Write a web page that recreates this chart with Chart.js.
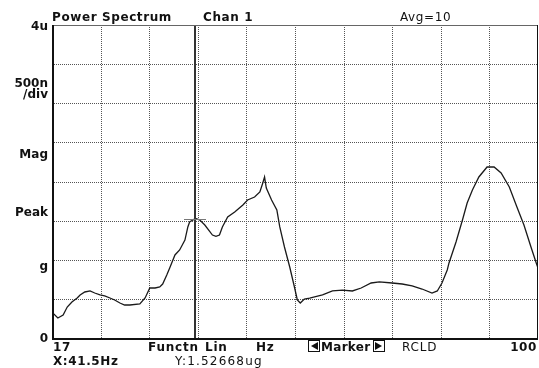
<!DOCTYPE html>
<html>
<head>
<meta charset="utf-8">
<script src="https://cdn.jsdelivr.net/npm/chart.js@4/dist/chart.umd.min.js"></script>
<style>
  html, body { margin: 0; padding: 0; background: #ffffff; }
  #wrap { width: 539px; height: 368px; }
</style>
</head>
<body>
<div id="wrap"><canvas id="c" width="539" height="368"></canvas></div>
<script>
// Frequency axis (Hz) and averaged power spectrum magnitude (u units)
const freqHz = [
  17.0, 18.0, 18.9, 19.6, 20.4, 21.3, 21.8, 22.6, 23.5, 24.3, 25.2, 26.0, 26.9,
  27.7, 28.6, 29.4, 30.3, 32.0, 32.9, 33.7, 34.6, 35.4, 35.9, 36.6, 37.1, 38.0,
  38.8, 39.7, 40.2, 40.5, 41.5, 42.2, 43.1, 44.4, 45.0, 45.6, 46.1, 47.0, 48.2,
  49.6, 50.4, 51.6, 52.5, 53.0, 53.3, 53.6, 54.5, 55.4, 55.9, 56.7, 57.6, 58.4,
  58.9, 59.4, 60.1, 61.0, 63.2, 64.9, 66.6, 68.3, 69.8, 71.5, 72.9, 75.1, 76.8,
  78.5, 80.2, 81.9, 82.8, 83.6, 84.5, 84.8, 86.0, 87.1, 87.9, 88.8, 89.9, 91.3,
  92.5, 93.7, 95.1, 96.4, 97.6, 98.8, 99.7, 100.0
];
const magnitude = [
  0.33, 0.256, 0.294, 0.396, 0.46, 0.511, 0.55, 0.588, 0.601, 0.575, 0.55, 0.537, 0.511,
  0.486, 0.447, 0.422, 0.422, 0.435, 0.511, 0.639, 0.639, 0.652, 0.69, 0.805, 0.895, 1.061,
  1.125, 1.252, 1.419, 1.483, 1.52668, 1.51, 1.444, 1.316, 1.30, 1.316, 1.419, 1.546, 1.61,
  1.70, 1.764, 1.802, 1.866, 1.981, 2.058, 1.917, 1.764, 1.636, 1.419, 1.163, 0.907, 0.652,
  0.486, 0.447, 0.498, 0.511, 0.55, 0.601, 0.613, 0.601, 0.639, 0.703, 0.716, 0.703, 0.69,
  0.665, 0.626, 0.575, 0.601, 0.703, 0.869, 0.959, 1.227, 1.508, 1.725, 1.891, 2.058, 2.185,
  2.185, 2.109, 1.93, 1.674, 1.444, 1.163, 0.959, 0.895
];

// Axis span and division counts
const xRange = [17, 100];
const yRange = [0, 4];
const xDivisions = 10;
const yDivisions = 8;

// Marker readout
const markerX = 41.5;
const markerY = 1.52668;

// Texts
const headerTexts = ['Power Spectrum', 'Chan 1', 'Avg=10'];
const sideLabels = ['4u', '500n', '/div', 'Mag', 'Peak', 'g', '0'];
const footerTexts = ['17', 'Functn', 'Lin', 'Hz', 'Marker', 'RCLD', '100'];
const readoutTexts = ['X:' + markerX + 'Hz', 'Y:' + markerY + 'ug'];

const points = freqHz.map((f, i) => ({ x: f, y: magnitude[i] }));

const BOLD = 'bold 12px "DejaVu Sans", Verdana, sans-serif';
const NORMAL = '12px "DejaVu Sans", Verdana, sans-serif';

function drawText(ctx, text, x, y, font, align, spacing) {
  ctx.save();
  ctx.font = font;
  ctx.fillStyle = '#111';
  ctx.textBaseline = 'alphabetic';
  ctx.textAlign = align || 'left';
  ctx.letterSpacing = (spacing == null ? 0.5 : spacing) + 'px';
  ctx.fillText(text, x, y);
  ctx.restore();
}

const scopePlugin = {
  id: 'scope',
  beforeDatasetsDraw(chart) {
    const { ctx, chartArea: a, scales: { x, y } } = chart;
    ctx.save();
    ctx.strokeStyle = '#555';
    ctx.lineWidth = 1;
    ctx.setLineDash([1, 1]);
    const xs = (xRange[1] - xRange[0]) / xDivisions;
    for (let i = 1; i < xDivisions; i++) {
      const px = Math.round(x.getPixelForValue(xRange[0] + i * xs)) + 0.5;
      ctx.beginPath(); ctx.moveTo(px, a.top); ctx.lineTo(px, a.bottom); ctx.stroke();
    }
    const ys = (yRange[1] - yRange[0]) / yDivisions;
    for (let i = 1; i < yDivisions; i++) {
      const py = Math.round(y.getPixelForValue(yRange[0] + i * ys)) + 0.5;
      ctx.beginPath(); ctx.moveTo(a.left, py); ctx.lineTo(a.right, py); ctx.stroke();
    }
    ctx.restore();
  },
  afterDatasetsDraw(chart) {
    const { ctx, chartArea: a, scales: { x, y } } = chart;
    ctx.save();
    // marker cursor
    const mx = Math.round(x.getPixelForValue(markerX));
    const my = Math.round(y.getPixelForValue(markerY)) + 0.5;
    ctx.strokeStyle = '#333';
    ctx.lineWidth = 2;
    ctx.beginPath(); ctx.moveTo(mx, a.top); ctx.lineTo(mx, a.bottom); ctx.stroke();
    ctx.strokeStyle = '#777';
    ctx.lineWidth = 1;
    ctx.beginPath(); ctx.moveTo(mx - 11, my); ctx.lineTo(mx + 11, my); ctx.stroke();

    // frame
    ctx.strokeStyle = '#666';
    ctx.lineWidth = 1;
    ctx.beginPath(); ctx.moveTo(a.left, a.top + 0.5); ctx.lineTo(a.right, a.top + 0.5); ctx.stroke();
    ctx.strokeStyle = '#111';
    ctx.beginPath(); ctx.moveTo(a.right - 0.5, a.top); ctx.lineTo(a.right - 0.5, a.bottom); ctx.stroke();
    ctx.lineWidth = 2;
    ctx.beginPath(); ctx.moveTo(a.left + 1, a.top); ctx.lineTo(a.left + 1, a.bottom + 1); ctx.stroke();
    ctx.beginPath(); ctx.moveTo(a.left, a.bottom + 1); ctx.lineTo(a.right, a.bottom + 1); ctx.stroke();
    ctx.restore();

    // header
    drawText(ctx, headerTexts[0], a.left, 21, BOLD, 'left', 0.6);
    drawText(ctx, headerTexts[1], 203, 21, BOLD, 'left', 0.6);
    drawText(ctx, headerTexts[2], 400, 21, NORMAL, 'left', 0.6);

    // side labels
    const rx = a.left - 4;
    drawText(ctx, sideLabels[0], rx, 30, BOLD, 'right', 0);
    drawText(ctx, sideLabels[1], rx, 87, BOLD, 'right', 0);
    drawText(ctx, sideLabels[2], rx, 98, BOLD, 'right', 0);
    drawText(ctx, sideLabels[3], rx, 158, BOLD, 'right', 0);
    drawText(ctx, sideLabels[4], rx, 216, BOLD, 'right', 0);
    drawText(ctx, sideLabels[5], rx, 270, BOLD, 'right', 0);
    drawText(ctx, sideLabels[6], rx, 342, BOLD, 'right', 0);

    // footer row
    const fy = 351;
    drawText(ctx, footerTexts[0], a.left + 1, fy, BOLD, 'left', 0.6);
    drawText(ctx, footerTexts[1], 148, fy, BOLD, 'left', 0.8);
    drawText(ctx, footerTexts[2], 205, fy, BOLD, 'left', 0.8);
    drawText(ctx, footerTexts[3], 256, fy, BOLD, 'left', 0.8);
    // marker softkey with arrow boxes
    ctx.save();
    ctx.strokeStyle = '#111';
    ctx.lineWidth = 1;
    ctx.strokeRect(308.5, 340.5, 11, 11);
    ctx.strokeRect(373.5, 340.5, 11, 11);
    ctx.fillStyle = '#111';
    ctx.beginPath(); ctx.moveTo(311, 346); ctx.lineTo(318, 342); ctx.lineTo(318, 350); ctx.closePath(); ctx.fill();
    ctx.beginPath(); ctx.moveTo(382, 346); ctx.lineTo(375, 342); ctx.lineTo(375, 350); ctx.closePath(); ctx.fill();
    ctx.restore();
    drawText(ctx, footerTexts[4], 321, fy, BOLD, 'left', 0.3);
    drawText(ctx, footerTexts[5], 402, fy, NORMAL, 'left', 0.8);
    drawText(ctx, footerTexts[6], 537, fy, BOLD, 'right', 0.6);

    // readout row
    drawText(ctx, readoutTexts[0], a.left + 1, 365, BOLD, 'left', 0.6);
    drawText(ctx, readoutTexts[1], 175, 365, NORMAL, 'left', 1.2);
  }
};

new Chart(document.getElementById('c'), {
  type: 'line',
  data: {
    datasets: [{
      data: points,
      borderColor: '#1a1a1a',
      borderWidth: 1.3,
      pointRadius: 0,
      tension: 0,
      fill: false
    }]
  },
  options: {
    responsive: false,
    animation: false,
    devicePixelRatio: 1,
    layout: { padding: { left: 52, top: 25, right: 1, bottom: 30 } },
    plugins: { legend: { display: false }, tooltip: { enabled: false } },
    scales: {
      x: { type: 'linear', min: xRange[0], max: xRange[1], display: false },
      y: { type: 'linear', min: yRange[0], max: yRange[1], display: false }
    }
  },
  plugins: [scopePlugin]
});
</script>
</body>
</html>
